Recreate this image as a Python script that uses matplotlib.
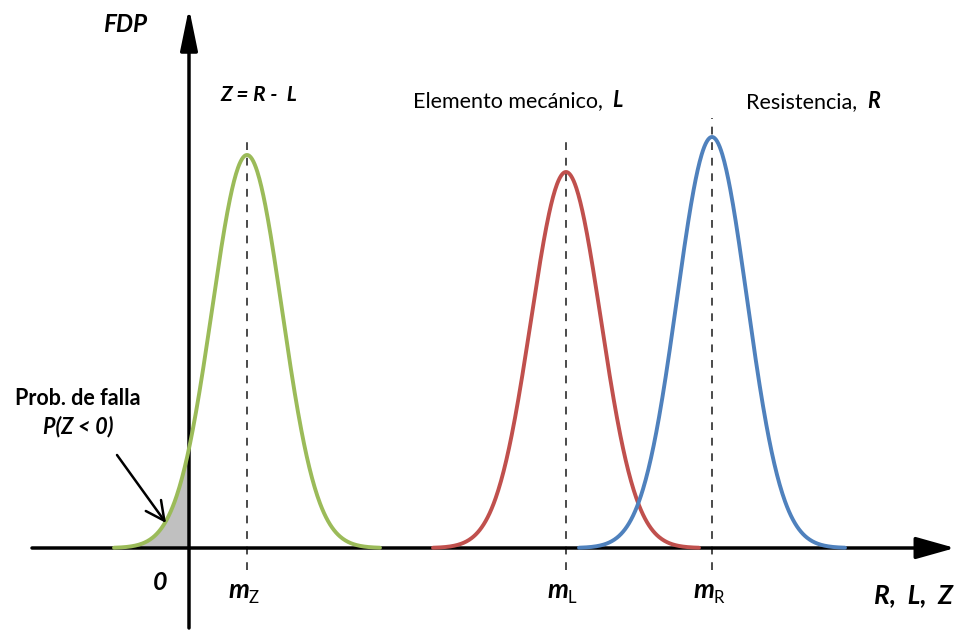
import numpy as np
import matplotlib
matplotlib.use("Agg")
import matplotlib.pyplot as plt

plt.rcParams['font.family'] = ['Lato', 'DejaVu Sans']

# curve parameters (x: distance from the FDP axis, y: height above R,L,Z axis)
names = ["Z", "L", "R"]
means = [58, 377, 523]
sigmas = [35, 35, 35]
peaks = [393, 376, 411]
colors = ["#9BBB59", "#C0504D", "#4F81BD"]
dash_tops = [413, 410, 430]
span = 3.8  # curves drawn over mean +/- span*sigma

fig = plt.figure(figsize=(9.58, 6.32), dpi=100)
ax = fig.add_axes([0, 0, 1, 1])
ax.set_xlim(-189, 769)
ax.set_ylim(-84, 548)
ax.axis("off")

# axes with arrows
ax.annotate("", xy=(766, 0), xytext=(-157, 0),
            arrowprops=dict(arrowstyle="-|>,head_length=1.6,head_width=0.45",
                            mutation_scale=15, lw=2.5, color="black", shrinkA=0, shrinkB=0))
ax.annotate("", xy=(0, 540), xytext=(0, -80),
            arrowprops=dict(arrowstyle="-|>,head_length=1.7,head_width=0.35",
                            mutation_scale=15, lw=2.5, color="black", shrinkA=0, shrinkB=0))

for m, s, p, c, top in zip(means, sigmas, peaks, colors, dash_tops):
    x = np.linspace(m - span * s, m + span * s, 400)
    y = p * np.exp(-0.5 * ((x - m) / s) ** 2)
    ax.plot([m, m], [-22, top], color="#4A4A4A", lw=1.4, ls=(0, (4, 4)), zorder=2)
    ax.plot(x, y, color=c, lw=2.8, zorder=3, solid_capstyle="round")

# shaded failure probability P(Z<0)
xs = np.linspace(means[0] - span * sigmas[0], 0, 200)
ys = peaks[0] * np.exp(-0.5 * ((xs - means[0]) / sigmas[0]) ** 2)
ax.fill_between(xs, 0, ys, color="#C0C0C0", zorder=1)

ax.annotate("", xy=(-23, 25), xytext=(-72, 93),
            arrowprops=dict(arrowstyle="->,head_length=0.9,head_width=0.45",
                            mutation_scale=15, lw=1.8, color="black", shrinkA=0, shrinkB=0))

# labels
bi = dict(fontweight="bold", fontstyle="italic")
ax.text(-64, 516, "FDP", fontsize=17.5, ha="center", va="baseline", **bi)
ax.text(70, 447, "Z = R -  L", fontsize=15, ha="center", va="baseline", **bi)

t = ax.text(224, 441, "Elemento mecánico,", fontsize=15.5, ha="left", va="baseline")
ax.annotate("L", xy=(1, 0), xycoords=t, xytext=(7, 0), textcoords="offset points",
            fontsize=15.5, ha="left", va="bottom", **bi)
t = ax.text(557, 440, "Resistencia,", fontsize=15.5, ha="left", va="baseline")
ax.annotate("R", xy=(1, 0), xycoords=t, xytext=(7, 0), textcoords="offset points",
            fontsize=15.5, ha="left", va="bottom", **bi)

ax.text(-111, 143, "Prob. de falla", fontsize=15.5, fontweight="bold", ha="center", va="baseline")
ax.text(-111, 115, "P(Z < 0)", fontsize=15.5, ha="center", va="baseline", **bi)
ax.text(-29, -42, "0", fontsize=18, ha="center", va="baseline", **bi)
for m, n in zip(means, names):
    ax.text(m + 2, -50, "m", fontsize=19, ha="right", va="baseline", **bi)
    ax.text(m + 2, -55, n, fontsize=12, ha="left", va="baseline")
ax.text(764, -55, "R,  L,  Z", fontsize=19, ha="right", va="baseline", **bi)

fig.savefig("out.png", dpi=100)
